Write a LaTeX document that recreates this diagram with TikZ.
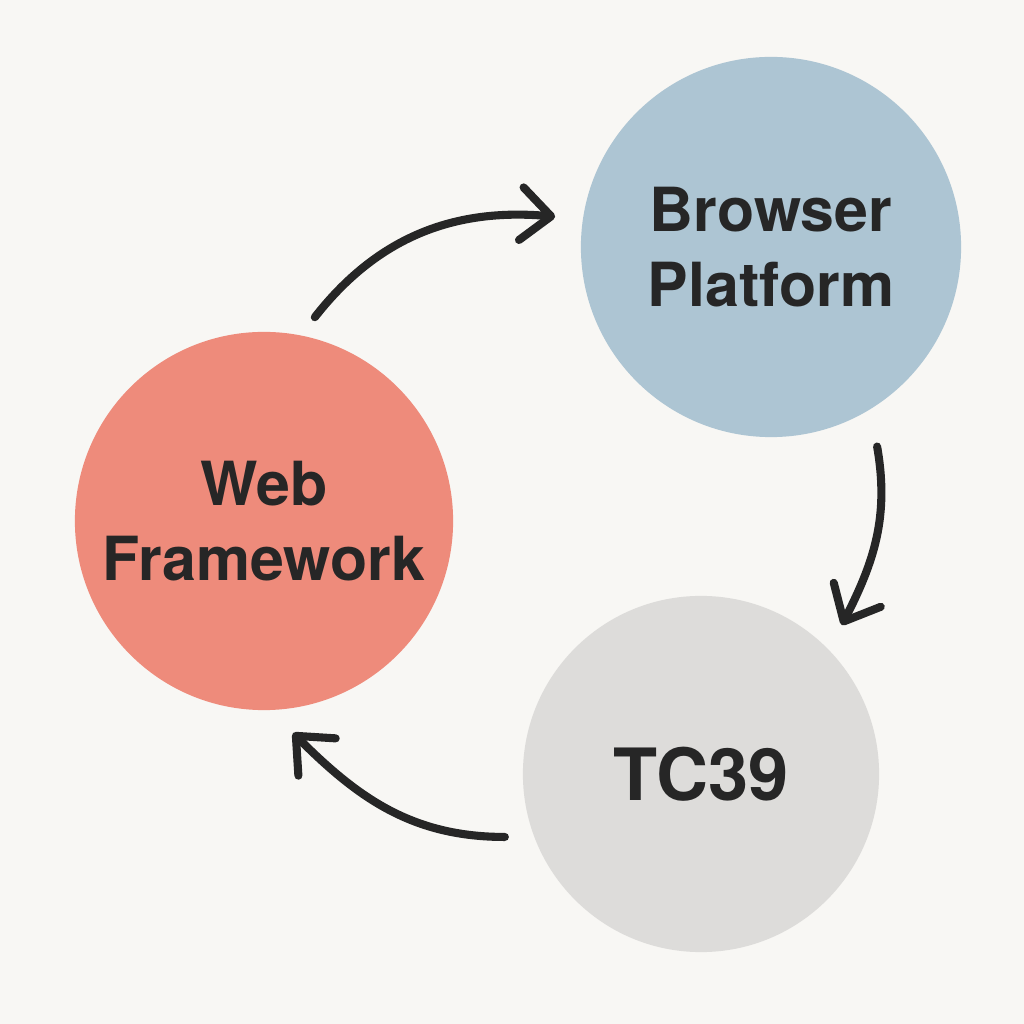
\documentclass[tikz,border=0pt]{standalone}
\usepackage{fontspec}
\setmainfont{TeX Gyre Heros}
\usetikzlibrary{arrows.meta,calc}
\definecolor{bgpaper}{HTML}{F8F7F4}
\definecolor{webred}{HTML}{EE8B7B}
\definecolor{browserblue}{HTML}{ADC5D3}
\definecolor{tcgray}{HTML}{DDDCDA}
\definecolor{ink}{HTML}{262626}
\begin{document}
\begin{tikzpicture}[x=0.01cm,y=0.01cm,
    party/.style={circle,inner sep=0pt,align=center,text=ink,
      font=\bfseries\fontsize{17.3}{21.3}\selectfont},
    flow/.style={draw=ink,line width=2.3pt,line cap=round,
      -{Straight Barb[length=8.5pt,width=15pt,round]}}]
  \fill[bgpaper] (0,0) rectangle (1024,1024);
  \useasboundingbox (0,0) rectangle (1024,1024);
  \node[party,fill=webred,minimum size=3.78cm] (web) at (264,503) {Web\\Framework};
  \node[party,fill=browserblue,minimum size=3.80cm] (browser) at (771,777) {Browser\\Platform};
  \node[party,fill=tcgray,minimum size=3.56cm,
    font=\bfseries\fontsize{20.5}{24}\selectfont] (tc) at (701,250) {TC39};
  \begin{scope}
    \draw[flow] ($(web)+(76:210)$) to[out=52,in=175] ($(browser)+(172:218)$);
    \draw[flow] ($(browser)+(-62:226)$) to[out=-80,in=63] ($(tc)+(46.6:205)$);
    \draw[flow] ($(tc)+(197.8:206)$) to[out=180,in=-45] ($(web)+(-82.2:214)$);
  \end{scope}
\end{tikzpicture}
\end{document}
